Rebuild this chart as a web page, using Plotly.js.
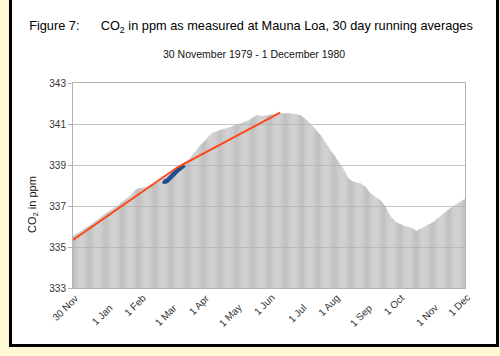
<!DOCTYPE html>
<html>
<head>
<meta charset="utf-8">
<script src="https://cdn.plot.ly/plotly-3.0.1.min.js"></script>
<style>
  html, body { margin: 0; padding: 0; width: 500px; height: 356px; overflow: hidden; background: #fff8d2; }
  #frame { position: absolute; left: 9px; top: -3px; width: 484px; height: 344px; border: 3px solid #000; background: #fff; }
  #chart { position: absolute; left: 0; top: 0; width: 500px; height: 356px; }
</style>
</head>
<body>
<div id="frame"></div>
<div id="chart"></div>
<script>
// 30-day running average CO2 (ppm), one value per day, 30 Nov 1979 .. 1 Dec 1980
const co2 = [
  335.55, 335.58, 335.62, 335.65, 335.68, 335.71, 335.74,
  335.78, 335.82, 335.86, 335.90, 335.93, 335.96, 335.99, 336.02, 336.04, 336.07,
  336.11, 336.16, 336.20, 336.24, 336.28, 336.32, 336.36, 336.40, 336.45,
  336.49, 336.52, 336.56, 336.59, 336.63, 336.66, 336.70, 336.73, 336.77, 336.80,
  336.84, 336.87, 336.91, 336.95, 336.98, 337.02, 337.06, 337.09, 337.13,
  337.17, 337.21, 337.25, 337.29, 337.33, 337.37, 337.41, 337.45, 337.50,
  337.55, 337.61, 337.67, 337.73, 337.78, 337.82, 337.85,
  337.86, 337.87, 337.88, 337.89, 337.90, 337.91, 337.92, 337.93, 337.94,
  337.96, 337.98, 338.00, 338.02, 338.04, 338.06, 338.08, 338.10, 338.12, 338.14,
  338.17, 338.21, 338.25, 338.29, 338.32, 338.36, 338.39, 338.43, 338.46,
  338.50, 338.53, 338.57, 338.61, 338.64, 338.68, 338.71, 338.75,
  338.80, 338.85, 338.90, 338.95, 339.00, 339.05, 339.10,
  339.13, 339.16, 339.19, 339.22, 339.25,
  339.31, 339.37, 339.44, 339.50, 339.57, 339.63,
  339.70, 339.77, 339.84, 339.91, 339.98,
  340.03, 340.08, 340.13, 340.18, 340.22,
  340.28, 340.34, 340.39, 340.45, 340.50, 340.56,
  340.58, 340.60, 340.62, 340.64, 340.66, 340.68, 340.70, 340.71,
  340.73, 340.74, 340.76, 340.77, 340.79, 340.80, 340.82, 340.83, 340.85,
  340.87, 340.89, 340.91, 340.93, 340.95, 340.97, 340.99, 341.00, 341.02, 341.03,
  341.05, 341.07, 341.10, 341.12, 341.14, 341.16, 341.18, 341.21, 341.23,
  341.27, 341.30, 341.34, 341.37, 341.41, 341.44,
  341.43, 341.42, 341.41, 341.40, 341.40, 341.39,
  341.40, 341.41, 341.42, 341.43, 341.44, 341.45, 341.46, 341.47, 341.48, 341.49,
  341.49, 341.50, 341.50, 341.50, 341.51, 341.51, 341.51, 341.52, 341.52,
  341.52, 341.52, 341.52, 341.52, 341.52, 341.52, 341.51, 341.51, 341.50,
  341.49, 341.48, 341.47, 341.46, 341.45, 341.45, 341.44,
  341.40, 341.36, 341.32, 341.28, 341.24, 341.20,
  341.14, 341.09, 341.03, 340.98, 340.92, 340.87,
  340.81, 340.75, 340.69, 340.63, 340.57, 340.52, 340.46,
  340.38, 340.30, 340.22, 340.14, 340.06, 339.98,
  339.90, 339.81, 339.73,
  339.66, 339.60, 339.53, 339.47, 339.40,
  339.32, 339.24, 339.16, 339.08, 339.00,
  338.92, 338.84,
  338.72, 338.63, 338.53, 338.44, 338.35,
  338.32, 338.28, 338.25, 338.22, 338.19,
  338.18, 338.16, 338.15, 338.14, 338.12, 338.11,
  338.08, 338.04, 338.01, 337.97, 337.94,
  337.88, 337.81, 337.75, 337.68, 337.62,
  337.58, 337.54, 337.50, 337.45,
  337.42, 337.39, 337.36, 337.32, 337.29,
  337.23, 337.16, 337.10, 337.03, 336.97,
  336.87, 336.77, 336.66, 336.56,
  336.49, 336.43, 336.36, 336.30, 336.23,
  336.21, 336.19, 336.16, 336.14, 336.12,
  336.10, 336.08, 336.05, 336.03, 336.01, 335.99,
  335.97, 335.96, 335.94, 335.93, 335.91,
  335.88, 335.85, 335.81, 335.78,
  335.81, 335.84, 335.86, 335.89, 335.91,
  335.94, 335.97, 336.01, 336.04, 336.07,
  336.10, 336.12, 336.15, 336.18, 336.20, 336.23,
  336.27, 336.31, 336.36, 336.40, 336.44, 336.48,
  336.53, 336.57, 336.62, 336.66, 336.71, 336.75, 336.80,
  336.83, 336.87, 336.90, 336.93, 336.97, 337.00,
  337.04, 337.07, 337.11, 337.14, 337.18, 337.21,
  337.24, 337.27, 337.30, 337.33
];
const startDate = [1979, 10, 30]; // 30 Nov 1979 (month is 0-based)

// trend line (red), with a bend near the start of March
const trendDates = ['1979-11-29 12:00', '1980-03-07', '1980-06-11'];
const trendValues = [335.34, 338.90, 341.55];

// highlighted segment (blue)
const blueDates = ['1980-02-22', '1980-02-24', '1980-02-26', '1980-02-28', '1980-03-01', '1980-03-04', '1980-03-07', '1980-03-10', '1980-03-13'];
const blueValues = [338.22, 338.18, 338.24, 338.34, 338.45, 338.60, 338.75, 338.88, 339.00];

// x tick labels
const tickDates = ['1979-11-30', '1980-01-01', '1980-02-01', '1980-03-01', '1980-04-01', '1980-05-01', '1980-06-01',
                   '1980-07-01', '1980-08-01', '1980-09-01', '1980-10-01', '1980-11-01', '1980-12-01'];
const tickLabels = ['30 Nov', '1 Jan', '1 Feb', '1 Mar', '1 Apr', '1 May', '1 Jun',
                    '1 Jul', '1 Aug', '1 Sep', '1 Oct', '1 Nov', '1 Dec'];
const yTicks = [333, 335, 337, 339, 341, 343];

const titleText = 'Figure 7:\u00A0\u00A0\u00A0\u00A0\u00A0\u00A0CO<sub>2</sub> in ppm as measured at Mauna Loa, 30 day running averages';
const subtitleText = '30 November 1979 - 1 December 1980';
const yTitleText = 'CO<sub>2</sub> in ppm';

const dates = co2.map((_, i) => {
  const d = new Date(Date.UTC(startDate[0], startDate[1], startDate[2] + i));
  return d.toISOString().slice(0, 10);
});

const traces = [
  { type: 'bar', x: dates, y: co2, marker: { color: '#b3b3b3', line: { width: 0 } }, hoverinfo: 'skip' },
  { type: 'scatter', mode: 'lines', x: blueDates, y: blueValues, line: { color: '#1f4f8f', width: 4.5, shape: 'spline' }, hoverinfo: 'skip' },
  { type: 'scatter', mode: 'lines', x: trendDates, y: trendValues, line: { color: '#ff4719', width: 2 }, hoverinfo: 'skip' }
];

const tickFont = { family: 'Liberation Sans Narrow, Arial Narrow, sans-serif', size: 10, color: '#333' };

const annotations = tickDates.map((d, i) => ({
  x: d, xref: 'x', y: (i % 2 === 0) ? -0.006 : -0.056, yref: 'paper',
  text: tickLabels[i], showarrow: false, textangle: -45,
  xanchor: 'right', yanchor: 'top', xshift: 10, font: tickFont
}));
annotations.push({
  x: (254 - 73) / 392, xref: 'paper', y: (288 - 53.5) / 205, yref: 'paper',
  text: subtitleText, showarrow: false, xanchor: 'center', yanchor: 'middle',
  font: { family: 'Liberation Sans, Arial, sans-serif', size: 10.5, color: '#111' }
});
annotations.push({
  x: (33 - 73) / 392, xref: 'paper', y: (288 - 205) / 205, yref: 'paper',
  text: yTitleText, showarrow: false, textangle: -90, xanchor: 'center', yanchor: 'middle',
  font: { family: 'Liberation Sans, Arial, sans-serif', size: 11, color: '#111' }
});

const layout = {
  width: 500, height: 356,
  margin: { l: 73, r: 35, t: 83, b: 68, pad: 0 },
  paper_bgcolor: 'rgba(0,0,0,0)', plot_bgcolor: '#fff',
  showlegend: false,
  bargap: 0.25,
  title: {
    text: titleText, x: 0.502, xanchor: 'center', xref: 'container',
    y: 1 - 26 / 356, yanchor: 'middle', yref: 'container',
    font: { family: 'Liberation Sans, Arial, sans-serif', size: 12.75, color: '#000' }
  },
  xaxis: {
    type: 'date', range: ['1979-11-29 12:00', '1980-12-01 12:00'],
    showticklabels: false, ticks: '', showgrid: false, zeroline: false,
    showline: true, linecolor: '#b3b3b3', linewidth: 1, mirror: true
  },
  yaxis: {
    range: [333, 343], tickvals: yTicks, ticktext: yTicks.map(String),
    ticks: 'outside', ticklen: 4, tickcolor: '#b3b3b3', tickfont: tickFont,
    showgrid: true, gridcolor: '#c4c4c4', gridwidth: 1, zeroline: false,
    showline: true, linecolor: '#b3b3b3', linewidth: 1, mirror: true
  },
  annotations: annotations
};

Plotly.newPlot('chart', traces, layout, { staticPlot: true, displayModeBar: false });
</script>
</body>
</html>
